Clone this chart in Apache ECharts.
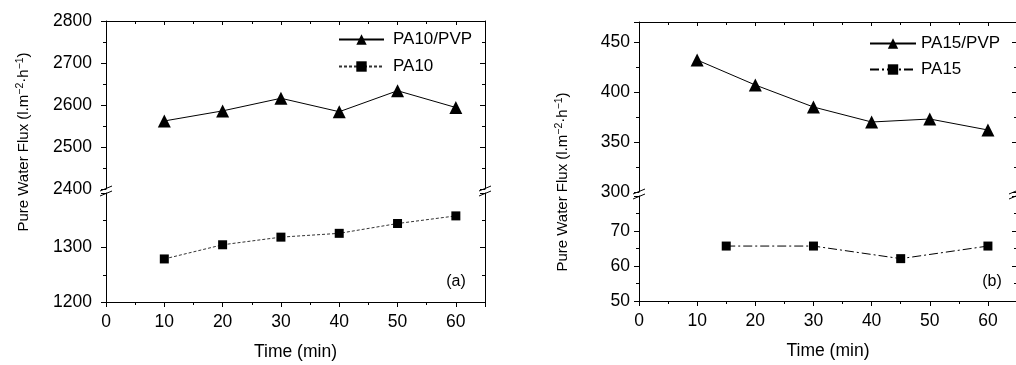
<!DOCTYPE html>
<html>
<head>
<meta charset="utf-8">
<script src="https://cdn.jsdelivr.net/npm/echarts@6.0.0/dist/echarts.min.js"></script>
<style>
  html, body { margin: 0; padding: 0; background: #fff; }
  #chart { width: 1016px; height: 365px; }
</style>
</head>
<body>
<div id="chart"></div>
<script>
// panel (a)
const timeA = [10, 20, 30, 40, 50, 60];
const pa10pvp = [2562, 2586, 2616, 2584, 2634, 2594];
const pa10 = [1279, 1305, 1319, 1326, 1344, 1358];
// panel (b)
const timeB = [10, 20, 30, 40, 50, 60];
const pa15pvp = [432, 407, 385, 370, 373, 362];
const timeB2 = [15, 30, 45, 60];
const pa15 = [65.7, 65.7, 62.1, 65.7];

const FONT = "'Liberation Sans', Arial, sans-serif";
const BLACK = "#000";
const TICK_FS = 17.5;

// layout of the four grids (upper / lower part of each broken axis)
const A = { left: 106, width: 379, upTop: 21, upBottom: 189, loTop: 193, loBottom: 302, labelMargin: 14 };
const B = { left: 639, width: 378, upTop: 22, upBottom: 192, loTop: 196, loBottom: 301, labelMargin: 9 };

const pairs = (xs, ys) => xs.map((x, i) => [x, ys[i]]);

function grid(p, up) {
  return {
    left: p.left, width: p.width,
    top: up ? p.upTop : p.loTop,
    height: up ? p.upBottom - p.upTop : p.loBottom - p.loTop,
    outerBoundsMode: "none",
    containLabel: false
  };
}

function xAxis(gridIndex, up) {
  return {
    type: "value", gridIndex, min: 0, max: 65, interval: 10,
    position: up ? "top" : "bottom",
    name: up ? "" : "Time (min)",
    nameLocation: "middle", nameGap: 41,
    nameTextStyle: { color: BLACK, fontFamily: FONT, fontSize: TICK_FS },
    axisLine: { show: true, onZero: false, lineStyle: { color: BLACK, width: 1 } },
    axisTick: { show: true, inside: up, length: up ? 4 : 5, lineStyle: { color: BLACK } },
    minorTick: { show: true, splitNumber: 2, length: 3, lineStyle: { color: BLACK } },
    axisLabel: {
      show: !up, margin: 11, color: BLACK, fontFamily: FONT, fontSize: TICK_FS,
      formatter: v => (v % 10 === 0 ? String(v) : "")
    },
    splitLine: { show: false }
  };
}

function yAxis(gridIndex, p, min, max, interval, right, hideMax) {
  return {
    type: "value", gridIndex, min, max, interval,
    position: right ? "right" : "left",
    axisLine: { show: true, onZero: false, lineStyle: { color: BLACK, width: 1 } },
    axisTick: { show: true, inside: !!right, length: 5, lineStyle: { color: BLACK } },
    minorTick: { show: true, splitNumber: 2, length: 3, lineStyle: { color: BLACK } },
    axisLabel: {
      show: !right, margin: p.labelMargin, color: BLACK, fontFamily: FONT, fontSize: TICK_FS,
      formatter: v => ((v - min) % interval !== 0 || (hideMax && v === max) ? "" : String(v))
    },
    splitLine: { show: false }
  };
}

const superName = "{n|Pure Water Flux (l.m}{s|\u22122}{n|\u00b7h}{s|\u22121}{n|)}";
const nameRich = {
  n: { fontFamily: FONT, fontSize: 15, lineHeight: 18, color: BLACK },
  s: { fontFamily: FONT, fontSize: 10.5, lineHeight: 18, verticalAlign: "top", color: BLACK, padding: [0, 0, 6, 0] }
};

function breakMarks(x, y) {
  const out = [];
  [-2.5, 2.5].forEach(d => {
    out.push({
      type: "line", silent: true,
      shape: { x1: x - 6, y1: y + d + 2.5, x2: x + 6, y2: y + d - 2.5 },
      style: { stroke: BLACK, lineWidth: 1 }
    });
  });
  return out;
}

const seriesBase = { type: "line", color: BLACK, z: 3 };

const legendText = { color: BLACK, fontFamily: FONT, fontSize: 17, lineHeight: 14, padding: [0, 0, 0, 4] };

const option = {
  animation: false,
  backgroundColor: "#fff",
  grid: [grid(A, true), grid(A, false), grid(B, true), grid(B, false)],
  xAxis: [xAxis(0, true), xAxis(1, false), xAxis(2, true), xAxis(3, false)],
  yAxis: [
    yAxis(0, A, 2400, 2800, 100, false), yAxis(0, A, 2400, 2800, 100, true),
    yAxis(1, A, 1200, 1400, 100, false, true), yAxis(1, A, 1200, 1400, 100, true),
    yAxis(2, B, 300, 470, 50, false), yAxis(2, B, 300, 470, 50, true),
    yAxis(3, B, 50, 80, 10, false, true), yAxis(3, B, 50, 80, 10, true)
  ],
  legend: [
    {
      data: ["PA10/PVP", "PA10"], orient: "vertical", left: 338, top: 31, padding: 0,
      itemWidth: 45, itemHeight: 13, itemGap: 10,
      textStyle: legendText
    },
    {
      data: ["PA15/PVP", "PA15"], orient: "vertical", left: 869, top: 35, padding: 0,
      itemWidth: 46, itemHeight: 13, itemGap: 9,
      textStyle: Object.assign({}, legendText, { padding: [0, 0, 0, 0] })
    }
  ],
  series: [
    Object.assign({}, seriesBase, {
      name: "PA10/PVP", xAxisIndex: 0, yAxisIndex: 0,
      data: pairs(timeA, pa10pvp),
      symbol: "triangle", symbolSize: 13,
      lineStyle: { color: BLACK, width: 1 }, itemStyle: { color: BLACK }
    }),
    Object.assign({}, seriesBase, {
      name: "PA10", xAxisIndex: 1, yAxisIndex: 2,
      data: pairs(timeA, pa10),
      symbol: "rect", symbolSize: 9,
      lineStyle: { color: "#333", width: 1, type: [3, 2] }, itemStyle: { color: BLACK }
    }),
    Object.assign({}, seriesBase, {
      name: "PA15/PVP", xAxisIndex: 2, yAxisIndex: 4,
      data: pairs(timeB, pa15pvp),
      symbol: "triangle", symbolSize: 13,
      lineStyle: { color: BLACK, width: 1 }, itemStyle: { color: BLACK }
    }),
    Object.assign({}, seriesBase, {
      name: "PA15", xAxisIndex: 3, yAxisIndex: 6,
      data: pairs(timeB2, pa15),
      symbol: "rect", symbolSize: 9,
      lineStyle: { color: BLACK, width: 1, type: [9, 3, 2, 3] }, itemStyle: { color: BLACK }
    })
  ],
  graphic: [
    {
      type: "text", x: 24, y: 142, rotation: Math.PI / 2, silent: true,
      style: { text: superName, rich: nameRich, align: "center", verticalAlign: "middle" }
    },
    {
      type: "text", x: 563, y: 182, rotation: Math.PI / 2, silent: true,
      style: { text: superName, rich: nameRich, align: "center", verticalAlign: "middle" }
    },
    {
      type: "text", x: 456, y: 282, silent: true,
      style: { text: "(a)", fill: BLACK, font: "16px " + FONT, align: "center", verticalAlign: "middle" }
    },
    {
      type: "text", x: 992, y: 282, silent: true,
      style: { text: "(b)", fill: BLACK, font: "16px " + FONT, align: "center", verticalAlign: "middle" }
    }
  ].concat(
    breakMarks(A.left, (A.upBottom + A.loTop) / 2),
    breakMarks(A.left + A.width, (A.upBottom + A.loTop) / 2),
    breakMarks(B.left, (B.upBottom + B.loTop) / 2),
    breakMarks(B.left + B.width - 2, (B.upBottom + B.loTop) / 2)
  )
};

const chart = echarts.init(document.getElementById("chart"), null, { renderer: "canvas" });
chart.setOption(option);
</script>
</body>
</html>
